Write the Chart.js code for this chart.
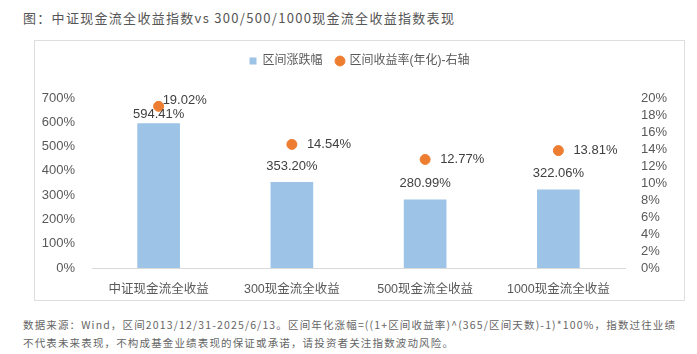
<!DOCTYPE html>
<html>
<head>
<meta charset="utf-8">
<script src="https://cdn.jsdelivr.net/npm/chart.js@4"></script>
<style>
  body { margin: 0; background: #fff; width: 697px; height: 354px; position: relative; overflow: hidden; }
  .title { position: absolute; left: 23px; top: 8px; font: 13px "Noto Sans CJK SC", sans-serif; color: #555; letter-spacing: 1.3px; white-space: nowrap; }
  .box { position: absolute; left: 34px; top: 40px; width: 649px; height: 259px; border: 1px solid #dedede; }
  .box canvas { position: absolute; left: 0; top: 0; }
  .note { position: absolute; left: 23px; top: 316px; font: 10.5px/18px "Noto Sans CJK SC", sans-serif; color: #666; letter-spacing: 1.15px; white-space: nowrap; }
</style>
</head>
<body>
<div class="title">图：中证现金流全收益指数vs 300/500/1000现金流全收益指数表现</div>
<div class="box"><canvas id="chart" width="649" height="259"></canvas></div>
<div class="note">数据来源：Wind，区间2013/12/31-2025/6/13。区间年化涨幅=((1+区间收益率)^(365/区间天数)-1)*100%，指数过往业绩<br>不代表未来表现，不构成基金业绩表现的保证或承诺，请投资者关注指数波动风险。</div>
<script>
// data
const categories = ['中证现金流全收益', '300现金流全收益', '500现金流全收益', '1000现金流全收益'];
const rangeReturn = [594.41, 353.20, 280.99, 322.06];   // 区间涨跌幅, left axis
const annualReturn = [19.02, 14.54, 12.77, 13.81];     // 区间收益率(年化), right axis

const FONT = '"Liberation Sans", "Noto Sans CJK SC", sans-serif';

// simple label drawing, no datalabels plugin around
const valueLabels = {
  id: 'valueLabels',
  afterDatasetsDraw(chart) {
    const ctx = chart.ctx;
    ctx.save();
    ctx.font = '13px ' + FONT;
    ctx.fillStyle = '#404040';
    ctx.textBaseline = 'middle';

    // bars: centered above the bar
    chart.getDatasetMeta(0).data.forEach((bar, i) => {
      ctx.textAlign = 'center';
      const gap = i === 0 ? 9 : 16; // first one is squeezed under the dot
      ctx.fillText(rangeReturn[i].toFixed(2) + '%', bar.x, bar.y - gap);
    });

    // dots: text to the right
    chart.getDatasetMeta(1).data.forEach((pt, i) => {
      ctx.textAlign = 'left';
      if (i === 0) ctx.fillText(annualReturn[i].toFixed(2) + '%', pt.x + 4, pt.y - 6);
      else ctx.fillText(annualReturn[i].toFixed(2) + '%', pt.x + 15, pt.y);
    });
    ctx.restore();
  }
};

// fixed legend height so the plot starts where it should
const legendHeight = {
  id: 'legendHeight',
  beforeInit(chart) {
    const fit = chart.legend.fit;
    chart.legend.fit = function () {
      fit.call(this);
      this.height = 57;
    };
  }
};

new Chart(document.getElementById('chart'), {
  data: {
    labels: categories,
    datasets: [
      {
        type: 'bar',
        label: '区间涨跌幅',
        data: rangeReturn,
        backgroundColor: '#9DC3E6',
        barThickness: 42,
        yAxisID: 'y',
        pointStyle: 'rect',
        order: 2
      },
      {
        type: 'line',
        label: '区间收益率(年化)-右轴',
        data: annualReturn,
        showLine: false,
        backgroundColor: '#ED7D31',
        borderColor: '#ED7D31',
        pointRadius: 5,
        pointHoverRadius: 5,
        pointStyle: 'circle',
        yAxisID: 'y1',
        order: 1
      }
    ]
  },
  options: {
    responsive: false,
    animation: false,
    layout: { padding: 0 },
    plugins: {
      tooltip: { enabled: false },
      legend: {
        position: 'top',
        labels: {
          usePointStyle: true,
          boxWidth: 7,
          boxHeight: 7,
          padding: 14,
          color: '#595959',
          font: { family: FONT, size: 12 },
          sort: (a, b) => a.datasetIndex - b.datasetIndex
        }
      }
    },
    scales: {
      x: {
        grid: { display: false },
        border: { display: true, color: '#d9d9d9' },
        ticks: { color: '#595959', padding: 6, font: { family: FONT, size: 12.5 } },
        afterFit(s) { s.height = 32; }
      },
      y: {
        position: 'left',
        min: 0,
        max: 700,
        grid: { display: false },
        border: { display: false },
        ticks: { stepSize: 100, padding: 9, autoSkip: false, color: '#595959', font: { family: FONT, size: 13 }, callback: v => v + '%' },
        afterFit(s) { s.width = 57; }
      },
      y1: {
        position: 'right',
        min: 0,
        max: 20,
        grid: { display: false },
        border: { display: false },
        ticks: { stepSize: 2, padding: 8, autoSkip: false, color: '#595959', font: { family: FONT, size: 13 }, callback: v => v + '%' },
        afterFit(s) { s.width = 59; }
      }
    }
  },
  plugins: [valueLabels, legendHeight]
});
</script>
</body>
</html>
